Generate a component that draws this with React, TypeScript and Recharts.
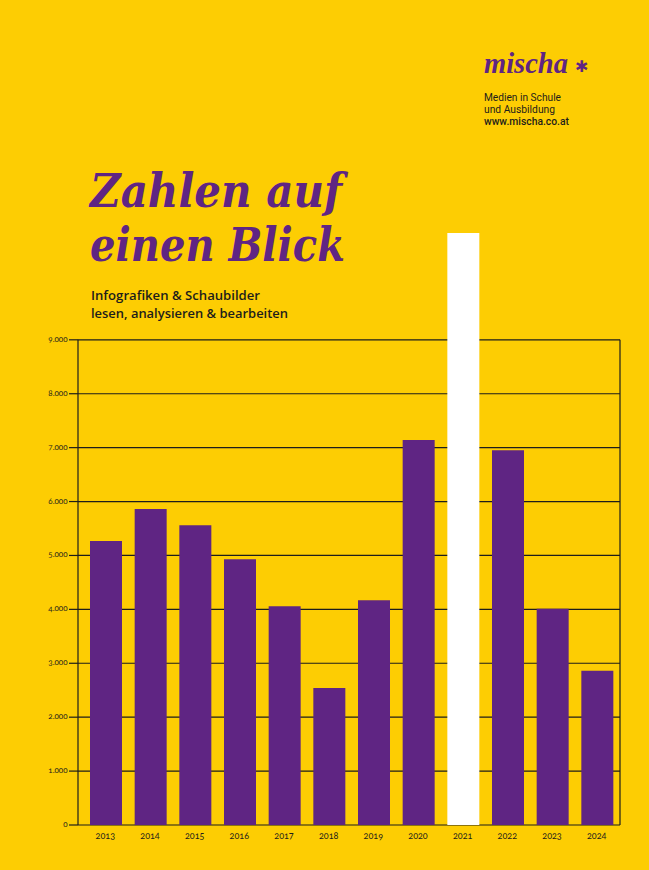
import React from "react";
import { Bar, CartesianGrid, Cell, ComposedChart, ReferenceLine, XAxis, YAxis } from "recharts";

const years = ["2013", "2014", "2015", "2016", "2017", "2018", "2019", "2020", "2021", "2022", "2023", "2024"];
const values = [5270, 5860, 5560, 4930, 4060, 2540, 4170, 7140, 10980, 6950, 4010, 2860];
const yTicks = [0, 1000, 2000, 3000, 4000, 5000, 6000, 7000, 8000, 9000];
const highlightYear = "2021";

const data = years.map((year, i) => ({ year, value: values[i] }));
const lastIndex = years.length - 1;

const YELLOW = "#FDCD03";
const PURPLE = "#5F2583";
const INK = "#1d1d1b";

const fmt = (v: number) => String(v).replace(/\B(?=(\d{3})+(?!\d))/g, ".");
const figures = { fontFeatureSettings: '"onum"' };

function YTick({ x, y, payload }: any) {
  return (
    <text x={x + 0.5} y={y} dy={2} textAnchor="end" fontSize={8} fontFamily="Lato" fill={INK} style={figures}>
      {fmt(payload.value)}
    </text>
  );
}

function XTick({ x, y, payload }: any) {
  return (
    <text x={x - 1} y={y} dy={6} textAnchor="middle" fontSize={9} fontFamily="Lato" fill={INK} style={figures}>
      {payload.value}
    </text>
  );
}

export default function App() {
  return (
    <div style={{ position: "absolute", left: 0, top: 0, width: 649, height: 870, background: YELLOW, overflow: "hidden" }}>
      <ComposedChart width={649} height={870} data={data} margin={{ top: 232, right: 29, bottom: 25, left: 0 }}>
        <CartesianGrid vertical={false} syncWithTicks stroke={INK} strokeWidth={1.2} />
        <XAxis dataKey="year" interval={0} tickLine={false} axisLine={false} height={20} padding={{ left: 6, right: 0 }} tick={<XTick />} />
        {/* hidden index axis, only used to place the plot frame lines */}
        <XAxis xAxisId="frame" type="number" domain={[0, lastIndex]} allowDataOverflow hide />
        <YAxis
          domain={[0, 11000]}
          ticks={yTicks}
          width={78}
          axisLine={false}
          tickSize={9}
          tickMargin={2}
          tickLine={{ stroke: INK, strokeWidth: 1.2 }}
          tick={<YTick />}
        />
        <ReferenceLine xAxisId="frame" segment={[{ x: 0, y: 0 }, { x: 0, y: 9000 }]} stroke={INK} strokeWidth={1.2} />
        <ReferenceLine xAxisId="frame" segment={[{ x: lastIndex, y: 0 }, { x: lastIndex, y: 9000 }]} stroke={INK} strokeWidth={1.2} />
        <Bar dataKey="value" barSize={32} isAnimationActive={false}>
          {data.map((d) => (
            <Cell key={d.year} fill={d.year === highlightYear ? "#ffffff" : PURPLE} />
          ))}
        </Bar>
      </ComposedChart>

      <svg width={649} height={870} style={{ position: "absolute", left: 0, top: 0, pointerEvents: "none" }}>
        {/* logo */}
        <text x={484} y={73} fontSize={28.5} fontStyle="italic" fontWeight="bold" fontFamily="Liberation Serif" fill={PURPLE} textLength={84} lengthAdjust="spacingAndGlyphs">
          mischa
        </text>
        <text x={575} y={72} fontSize={16} fontFamily="DejaVu Sans" fill={PURPLE}>
          ✱
        </text>
        <g fontFamily="Roboto" fontSize={10.5} fill={INK}>
          <text x={484} y={100.5} textLength={77} lengthAdjust="spacingAndGlyphs">Medien in Schule</text>
          <text x={484} y={112.5} textLength={71} lengthAdjust="spacingAndGlyphs">und Ausbildung</text>
          <text x={484} y={124.5} textLength={85} lengthAdjust="spacingAndGlyphs" fontWeight={500}>www.mischa.co.at</text>
        </g>

        {/* title */}
        <g fontFamily="DejaVu Serif" fontWeight="bold" fontStyle="italic" fontSize={46} fill={PURPLE}>
          <text x={90} y={207} textLength={252} lengthAdjust="spacingAndGlyphs">Zahlen auf</text>
          <text x={90} y={261} textLength={255} lengthAdjust="spacingAndGlyphs">einen Blick</text>
        </g>
        <g fontFamily="Open Sans" fontWeight={600} fontSize={13} fill={INK}>
          <text x={91} y={300} textLength={169} lengthAdjust="spacingAndGlyphs">Infografiken &amp; Schaubilder</text>
          <text x={91} y={318} textLength={197} lengthAdjust="spacingAndGlyphs">lesen, analysieren &amp; bearbeiten</text>
        </g>
      </svg>
    </div>
  );
}
